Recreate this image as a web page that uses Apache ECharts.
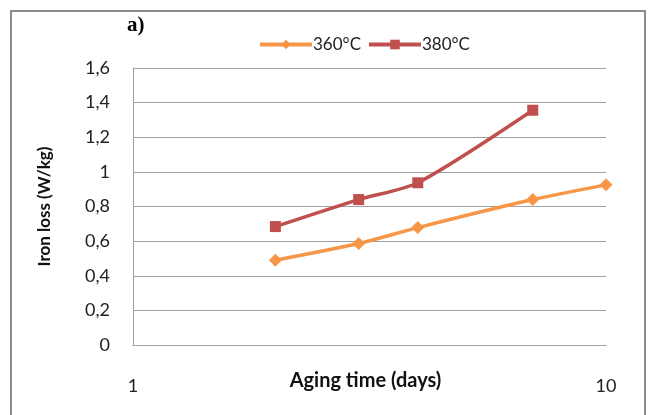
<!DOCTYPE html>
<html>
<head>
<meta charset="utf-8">
<script src="https://cdn.jsdelivr.net/npm/echarts@6/dist/echarts.min.js"></script>
<style>
  html, body { margin: 0; padding: 0; background: #fff; }
  #main { width: 649px; height: 415px; }
</style>
</head>
<body>
<div id="main"></div>
<script>
// aging time (days), log axis
const days360 = [2, 3, 4, 7, 10];
const days380 = [2, 3, 4, 7];
const loss360 = [0.49, 0.586, 0.678, 0.84, 0.925];
const loss380 = [0.684, 0.84, 0.937, 1.356];
const seriesNames = ['360°C', '380°C'];

const font = 'Lato, "Open Sans", sans-serif';
const chart = echarts.init(document.getElementById('main'));

const option = {
  backgroundColor: '#fff',
  animation: false,
  graphic: [
    {
      type: 'rect',
      shape: { x: 11, y: 11, width: 634, height: 420 },
      style: { fill: 'none', stroke: '#8c8c8c', lineWidth: 2 }
    },
    {
      type: 'text',
      left: 127, top: 15,
      style: { text: 'a)', font: 'bold 21px "Liberation Serif", serif', fill: '#000' }
    }
  ],
  legend: {
    top: 31,
    left: 253,
    itemWidth: 52,
    itemHeight: 12,
    itemGap: 6,
    lineStyle: { width: 4 },
    textStyle: { fontFamily: font, fontSize: 17, color: '#222', padding: [0, 0, 0, -4] },
    data: seriesNames
  },
  grid: { left: 133, right: 43, top: 68, bottom: 70, containLabel: false },
  xAxis: {
    type: 'log',
    logBase: 10,
    min: 1,
    max: 10,
    name: 'Aging time (days)',
    nameLocation: 'middle',
    nameGap: 26,
    nameMoveOverlap: false,
    nameTextStyle: { fontFamily: font, fontSize: 20, fontWeight: 'bold', color: '#111', padding: [0, 8, 0, 0] },
    axisLine: { show: true, lineStyle: { color: '#a0a0a0', width: 1 } },
    axisTick: { show: false },
    splitLine: { show: false },
    minorTick: { show: false },
    axisLabel: { margin: 32, fontFamily: font, fontSize: 18, color: '#222' }
  },
  yAxis: {
    type: 'value',
    min: 0,
    max: 1.6,
    interval: 0.2,
    name: 'Iron loss (W/kg)',
    nameLocation: 'middle',
    nameGap: 80,
    nameMoveOverlap: false,
    nameTextStyle: { fontFamily: font, fontSize: 17, fontWeight: 'bold', color: '#111' },
    axisLine: { show: true, lineStyle: { color: '#a0a0a0', width: 1 } },
    axisTick: { show: false },
    splitLine: { show: true, lineStyle: { color: '#a0a0a0', width: 1 } },
    axisLabel: {
      margin: 23,
      fontFamily: font,
      fontSize: 18,
      color: '#222',
      formatter: function (v) { return String(+v.toFixed(1)).replace('.', ','); }
    }
  },
  series: [
    {
      name: seriesNames[0],
      type: 'line',
      smooth: 0.25,
      data: days360.map((d, i) => [d, loss360[i]]),
      symbol: 'diamond',
      symbolSize: 13,
      itemStyle: { color: '#f79646' },
      lineStyle: { color: '#f79646', width: 3.5 }
    },
    {
      name: seriesNames[1],
      type: 'line',
      smooth: 0.25,
      data: days380.map((d, i) => [d, loss380[i]]),
      symbol: 'rect',
      symbolSize: 11,
      itemStyle: { color: '#c0504d' },
      lineStyle: { color: '#c0504d', width: 3.5 }
    }
  ]
};
chart.setOption(option);
</script>
</body>
</html>
